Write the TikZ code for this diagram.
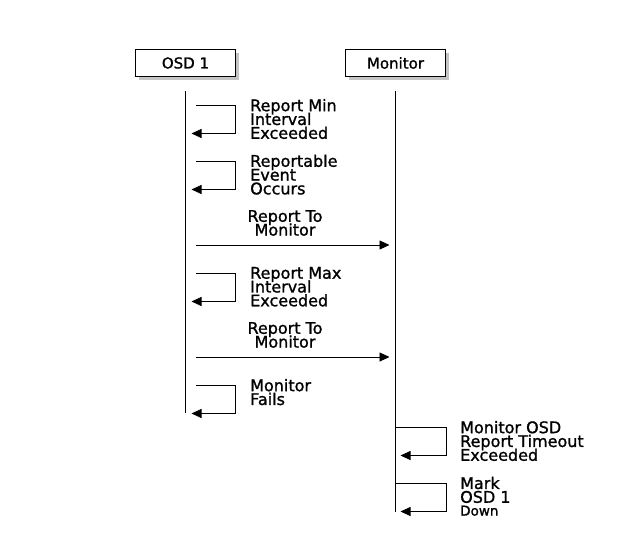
\documentclass[tikz,border=0pt]{standalone}
\usepackage{fontspec}
\setmainfont{DejaVu Sans}
\newfontfamily\diagfont{DejaVu Sans}[FakeBold=1.2]
\usetikzlibrary{arrows.meta,shadows}
\newcommand\notefont{\diagfont\fontsize{16}{13.8}\selectfont\lineskiplimit=-20pt\relax}

\tikzset{
	actor/.style={draw, fill=white, line width=0.8pt, minimum width=100pt, minimum height=27pt, inner sep=0pt,
		font=\diagfont\fontsize{15}{16}\selectfont,
		drop shadow={shadow xshift=3pt, shadow yshift=-3pt, fill=black!45, opacity=0.5}},
	lifeline/.style={line width=0.8pt},
	msg/.style={line width=0.8pt, -{Triangle[length=10pt,width=9pt]}},
	note/.style={anchor=north west, inner sep=0pt, align=left, font=\notefont},
	msgnote/.style={anchor=south, inner sep=0pt, align=center, font=\notefont},
}

\begin{document}
\begin{tikzpicture}[x=1pt, y=-1pt]
		%%%%% START %%%%%
		\useasboundingbox (0, 0) rectangle (620, 546);
		
		\node[actor] (osd) at (185.5, 63) {OSD 1};
		\node[actor] (mon) at (395.5, 63) {Monitor};
		
		\coordinate (osd top) at (185.5, 91);
		\coordinate (osd end) at (185.5, 413);
		\coordinate (mon top) at (395.5, 91);
		\coordinate (mon end) at (395.5, 512);
		\draw[lifeline] (osd top) -- (osd end);
		\draw[lifeline] (mon top) -- (mon end);
		
		%% OSD 1 to itself
		\coordinate (min) at (195.5, 105.5);
		\draw[msg] (min) -- ++(40, 0) -- ++(0, 28) -- ++(-44, 0);
		\node[note] (min label) at (250, 98.8) {Report Min\\Interval\\Exceeded};
		
		\coordinate (event) at (195.5, 161.5);
		\draw[msg] (event) -- ++(40, 0) -- ++(0, 28) -- ++(-44, 0);
		\node[note] (event label) at (250, 154.4) {Reportable\\Event\\Occurs};
		
		%% OSD 1 to Monitor
		\coordinate (report a) at (195.5, 245);
		\coordinate (report a end) at (389.5, 245);
		\draw[msg] (report a) -- (report a end);
		\node[msgnote] (report a label) at (285, 236) {Report To\\Monitor};
		
		\coordinate (max) at (195.5, 273.5);
		\draw[msg] (max) -- ++(40, 0) -- ++(0, 28) -- ++(-44, 0);
		\node[note] (max label) at (250, 266.8) {Report Max\\Interval\\Exceeded};
		
		\coordinate (report b) at (195.5, 357);
		\coordinate (report b end) at (389.5, 357);
		\draw[msg] (report b) -- (report b end);
		\node[msgnote] (report b label) at (285, 348) {Report To\\Monitor};
		
		\coordinate (fails) at (195.5, 385.5);
		\draw[msg] (fails) -- ++(40, 0) -- ++(0, 28) -- ++(-44, 0);
		\node[note] (fails label) at (250, 378.8) {Monitor\\Fails};
		
		%% Monitor to itself
		\coordinate (timeout) at (395.5, 427.5);
		\draw[msg] (timeout) -- ++(51, 0) -- ++(0, 28) -- ++(-46, 0);
		\node[note] (timeout label) at (460, 420.8) {Monitor OSD\\Report Timeout\\Exceeded};
		
		\coordinate (mark) at (395.5, 483.5);
		\draw[msg] (mark) -- ++(51, 0) -- ++(0, 28) -- ++(-46, 0);
		\node[note] (mark label) at (460, 476.6) {Mark\\OSD 1\\[-1pt]{\fontsize{13.5}{12.7}\selectfont Down}};
		
		%%%%% END %%%%%
\end{tikzpicture}
\end{document}
